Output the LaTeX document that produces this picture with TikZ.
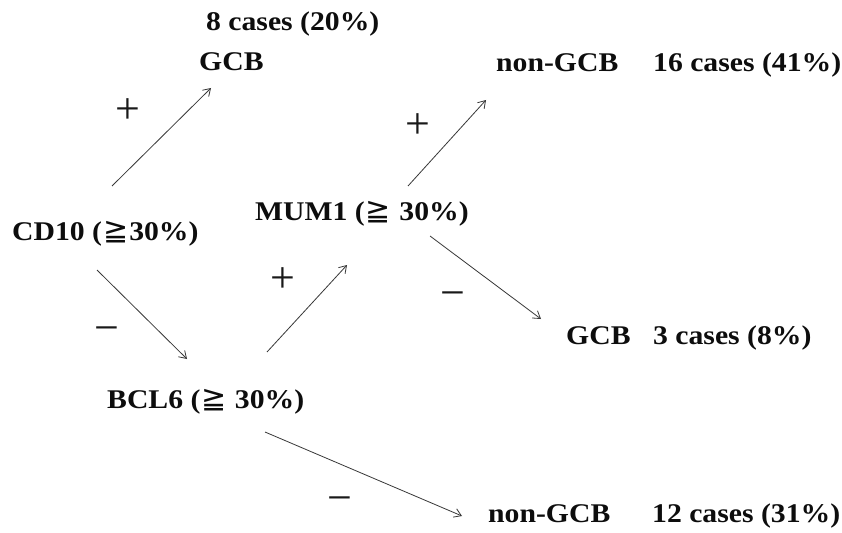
\documentclass[tikz,border=0pt]{standalone}
\usepackage{fontspec}
\usetikzlibrary{arrows.meta,calc}
\newfontfamily\lblfont{Liberation Serif}[FakeStretch=1.1]
\newfontfamily\signfont{Liberation Serif}
\newfontfamily\symbfont{DejaVu Sans}
\newcommand\gqsym{{\kern1pt\symbfont\mdseries\fontsize{30}{30}\selectfont ≧\kern1pt}}
\begin{document}
\begin{tikzpicture}[x=1pt,y=-1pt,
  lbl/.style={anchor=base west,inner sep=0pt,text=black!95,font=\lblfont\bfseries\fontsize{27}{30}\selectfont},
  sgn/.style={anchor=center,inner sep=0pt,text=black!90,font=\signfont\fontsize{44}{46}\selectfont},
  arr/.style={draw=black!78,line width=0.8pt,-{Straight Barb[length=7pt,width=9pt,line width=0.8pt]}}]
\useasboundingbox[fill=white] (0,0) rectangle (842,532);
% labels
\node[lbl] (c8)   at (206,31)  {8 cases (20\%)};
\node[lbl] (gcbA) at (199,71)  {GCB};
\node[lbl] (ngA)  at (496,72)  {non-GCB};
\node[lbl] (c16)  at (653,72)  {16 cases (41\%)};
\node[lbl] (cd10) at (12,240)  {CD10 (\gqsym30\%)};
\node[lbl] (mum1) at (255,220) {MUM1 (\gqsym\ 30\%)};
\node[lbl] (bcl6) at (107,408) {BCL6 (\gqsym\ 30\%)};
\node[lbl] (gcbB) at (566,344) {GCB};
\node[lbl] (c3)   at (653,344) {3 cases (8\%)};
\node[lbl] (ngB)  at (488,522) {non-GCB};
\node[lbl] (c12)  at (652,522) {12 cases (31\%)};
% signs
\node[sgn] (p1) at (128,111) {+};
\node[sgn] (m1) at (107,335) {−};
\node[sgn] (p2) at (283,280) {+};
\node[sgn] (p3) at (418,126) {+};
\node[sgn] (m2) at (453,300) {−};
\node[sgn] (m3) at (340,505) {−};
% connectors
\draw[arr] ($(cd10.base west)+(100,-54)$) -- ($(gcbA.base west)+(12,17)$);
\draw[arr] ($(cd10.base west)+(85,30)$)   -- ($(bcl6.base west)+(80,-49)$);
\draw[arr] ($(bcl6.base west)+(160,-56)$) -- ($(mum1.base west)+(92,45)$);
\draw[arr] ($(mum1.base west)+(153,-34)$) -- ($(ngA.base west)+(-10,28)$);
\draw[arr] ($(mum1.base west)+(175,16)$)  -- ($(gcbB.base west)+(-25,-25)$);
\draw[arr] ($(bcl6.base west)+(158,24)$)  -- ($(ngB.base west)+(-26,-6)$);
\end{tikzpicture}
\end{document}
